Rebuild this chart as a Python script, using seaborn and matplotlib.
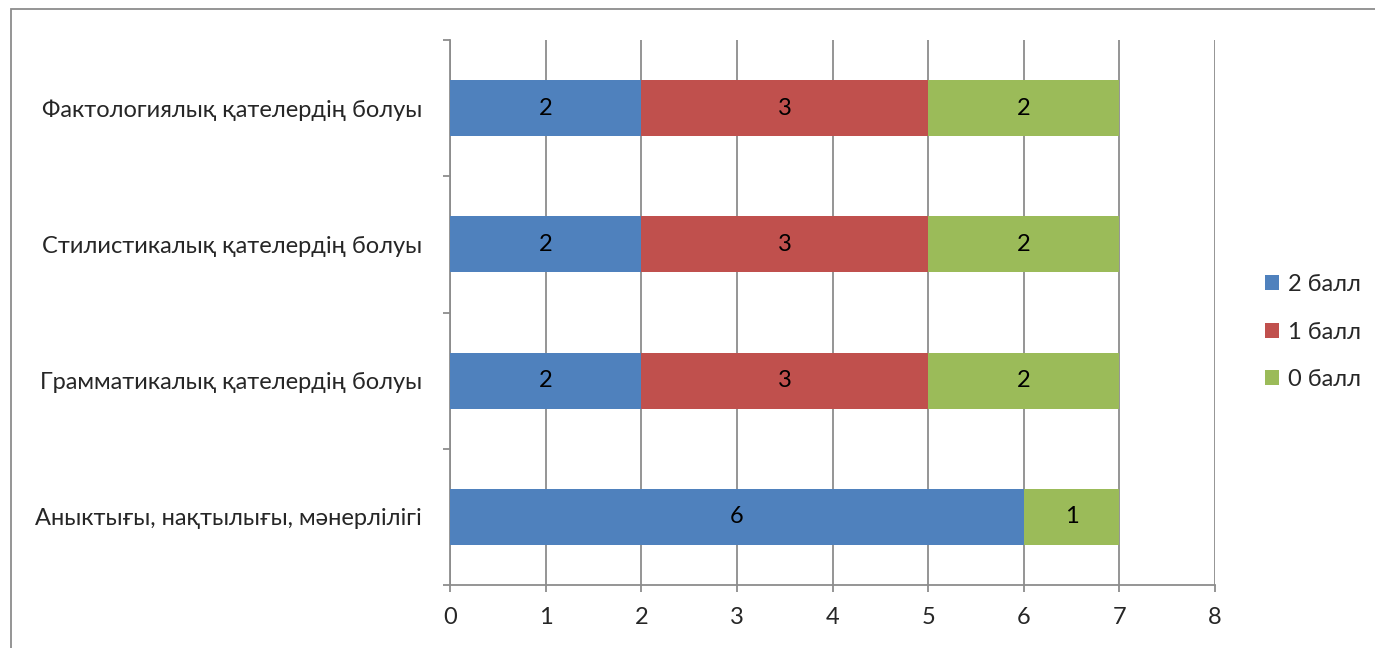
import numpy as np
import pandas as pd
import matplotlib
matplotlib.use("Agg")
import matplotlib.pyplot as plt
import seaborn as sns
from matplotlib.patches import Rectangle, Patch

# данные
categories = ['Фактологиялық қателердің болуы',
              'Стилистикалық қателердің болуы',
              'Грамматикалық қателердің болуы',
              'Аныктығы, нақтылығы, мәнерлілігі']
ball2 = [2, 2, 2, 6]
ball1 = [3, 3, 3, 0]
ball0 = [2, 2, 2, 1]
series_names = ['2 балл', '1 балл', '0 балл']
colors = ['#4F81BD', '#C0504D', '#9BBB59']

sns.set_theme(style='white')
plt.rcParams['font.family'] = ['Lato', 'DejaVu Sans']
fs = 17

df = pd.DataFrame({'cat': categories, 'b2': ball2, 'b1': ball1, 'b0': ball0})
df['s1'] = df['b2'] + df['b1']
df['s0'] = df['s1'] + df['b0']

fig = plt.figure(figsize=(13.75, 6.48), dpi=100)
ax = fig.add_axes([450 / 1375, 63 / 648, 765 / 1375, 545 / 648])

# stacked bars: draw totals first, then overlay
sns.barplot(data=df, x='s0', y='cat', color=colors[2], width=0.41, ax=ax, zorder=3, saturation=1)
sns.barplot(data=df, x='s1', y='cat', color=colors[1], width=0.41, ax=ax, zorder=3, saturation=1)
sns.barplot(data=df, x='b2', y='cat', color=colors[0], width=0.41, ax=ax, zorder=3, saturation=1)
for p in ax.patches:
    p.set_edgecolor('none')

# value labels
for i, row in df.iterrows():
    left = 0
    for v in [row['b2'], row['b1'], row['b0']]:
        if v > 0:
            ax.text(left + v / 2, i, str(v), ha='center', va='center', fontsize=fs, color='black', zorder=4)
        left += v

ax.set_xlim(0, 8)
ax.set_ylim(3.5, -0.5)
ax.set_xticks(range(0, 9))
ax.set_xlabel('')
ax.set_ylabel('')

ax.grid(axis='x', color='#8C8C8C', linewidth=1.3, zorder=0)
ax.grid(axis='y', visible=False)
for s in ['top', 'right']:
    ax.spines[s].set_visible(False)
for s in ['left', 'bottom']:
    ax.spines[s].set_color('#8C8C8C')
    ax.spines[s].set_linewidth(1.3)

ax.set_yticks(np.arange(-0.5, 4, 1), minor=True)
ax.tick_params(axis='y', which='major', length=0, pad=20, labelsize=fs)
ax.tick_params(axis='y', which='minor', length=5, width=1.3, color='#8C8C8C', direction='out', left=True)
ax.tick_params(axis='x', which='major', length=5, width=1.3, color='#8C8C8C', direction='out', bottom=True, pad=11, labelsize=fs)

handles = [Patch(facecolor=c, edgecolor='none') for c in colors]
fig.legend(handles, series_names, loc='center left', bbox_to_anchor=(1244 / 1375, 1 - 332 / 648),
           frameon=False, fontsize=fs, handlelength=0.6, handleheight=0.6, handletextpad=0.35, labelspacing=1.12)

# outer chart border
fig.patches.append(Rectangle((11 / 1375, -0.05), 1.2, 1 - 9 / 648 + 0.05, transform=fig.transFigure,
                             fill=False, edgecolor='#8C8C8C', linewidth=1.3))

fig.savefig('out.png', dpi=100)
